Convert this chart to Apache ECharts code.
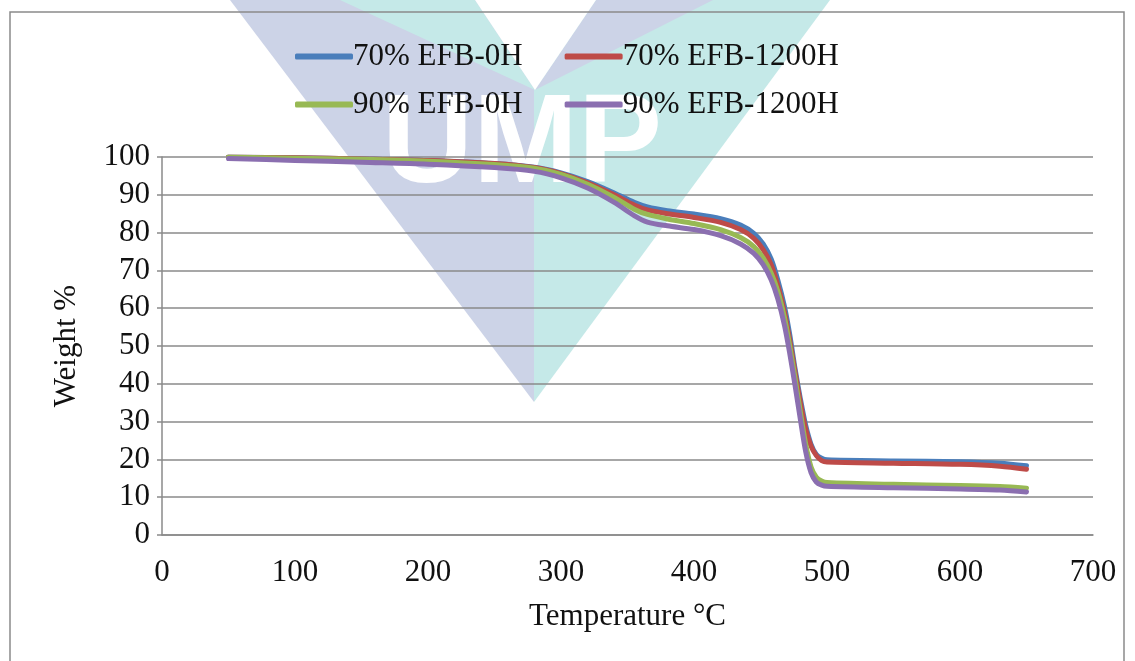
<!DOCTYPE html>
<html>
<head>
<meta charset="utf-8">
<script src="https://cdn.jsdelivr.net/npm/echarts@6/dist/echarts.min.js"></script>
<style>
html,body{margin:0;padding:0;background:#fff;}
#chart{width:1135px;height:661px;}
</style>
</head>
<body>
<div id="chart"></div>
<script>
// Temperature (°C) sample points
const temps = [50,100,150,200,250,280,300,320,340,355,365,380,400,420,435,445,452,458,463,468,472,476,480,484,488,492,496,500,550,600,630,650];
// Weight % series
const efb70_0h    = [100,99.8,99.5,99.1,98.3,97.3,95.8,93.5,90.5,88,86.8,85.8,84.9,83.7,82,79.8,77,73,67.5,60.5,53,44,36,29,24,21.3,20.3,19.9,19.6,19.4,19,18.3];
const efb70_1200h = [100,99.8,99.5,99.1,98.3,97.2,95.6,93.2,90,87.3,86,85,84,82.7,80.8,78.5,75.5,71.5,66,59,51.5,43,35,28,23.5,21,19.7,19.3,19,18.7,18.2,17.4];
const efb90_0h    = [100,99.7,99.4,98.9,98,97,95.4,92.8,89.3,86.2,84.8,83.6,82.4,80.8,78.7,76.3,73.3,69.3,64.5,57.5,50,41.5,32.5,24,18,15.3,14.3,13.9,13.4,13.1,12.8,12.4];
const efb90_1200h = [99.6,99.1,98.6,98.1,97.2,96.2,94.5,91.8,88,84.5,82.8,81.8,80.8,79.2,77,74.5,71.5,67.5,62.5,55.5,48,39.5,30.5,22,16.5,14,13.2,12.9,12.5,12.2,11.9,11.4];
const seriesNames = ['70% EFB-0H','70% EFB-1200H','90% EFB-0H','90% EFB-1200H'];
const seriesColors = ['#4A7EBB','#BE4B48','#98B954','#8B6FB0'];
const xTicks = [0,100,200,300,400,500,600,700];
const yTicks = [0,10,20,30,40,50,60,70,80,90,100];

const allData = [efb70_0h, efb70_1200h, efb90_0h, efb90_1200h];
const FONT = '"Liberation Serif","Times New Roman",serif';

const chart = echarts.init(document.getElementById('chart'));
const legendCommon = {
  orient: 'horizontal',
  itemWidth: 58,
  itemHeight: 6,
  itemGap: 42,
  icon: 'roundRect',
  textStyle: {fontFamily: FONT, fontSize: 31, color: '#111', padding: [0,0,0,-5]},
  selectedMode: false
};
chart.setOption({
  animation: false,
  backgroundColor: '#fff',
  graphic: [
    {type:'polygon', z:-20, silent:true, shape:{points:[[230,0],[534,0],[534,402]]}, style:{fill:'#CCD3E7'}},
    {type:'polygon', z:-20, silent:true, shape:{points:[[534,0],[830,0],[534,402]]}, style:{fill:'#C5E9E8'}},
    {type:'polygon', z:-19, silent:true, shape:{points:[[340,0],[475,0],[535,90]]}, style:{fill:'#C5E9E8'}},
    {type:'polygon', z:-19, silent:true, shape:{points:[[596,0],[713,0],[535,90]]}, style:{fill:'#CCD3E7'}},
    {type:'polygon', z:-18, silent:true, shape:{points:[[475,0],[596,0],[535,90]]}, style:{fill:'#ffffff'}},
    {type:'text', z:-17, silent:true, left: 382, top: 84, style:{text:'UMP', fill:'#ffffff', font:'bold 126px "Liberation Sans", Arial, sans-serif'}},
    {type:'rect', z:50, silent:true, shape:{x:10, y:12, width:1114, height:700}, style:{fill:'none', stroke:'#8a8a8a', lineWidth:1.5}}
  ],
  legend: [
    Object.assign({data: [seriesNames[0], seriesNames[1]], left: 290, top: 36}, legendCommon),
    Object.assign({data: [seriesNames[2], seriesNames[3]], left: 290, top: 84}, legendCommon)
  ],
  grid: {left: 162, right: 42, top: 157, bottom: 126, containLabel: false},
  xAxis: {
    type: 'value', min: xTicks[0], max: xTicks[xTicks.length-1], interval: 100,
    name: 'Temperature °C', nameLocation: 'middle', nameGap: 66,
    nameTextStyle: {fontFamily: FONT, fontSize: 31, color: '#111'},
    axisLine: {show: true, lineStyle: {color: '#8a8a8a', width: 1.5}},
    axisTick: {show: false},
    splitLine: {show: false},
    axisLabel: {fontFamily: FONT, fontSize: 31, color: '#111', margin: 22}
  },
  yAxis: {
    type: 'value', min: yTicks[0], max: yTicks[yTicks.length-1], interval: 10,
    name: 'Weight %', nameLocation: 'middle', nameGap: 80, nameRotate: 90,
    nameTextStyle: {fontFamily: FONT, fontSize: 31, color: '#111'},
    axisLine: {show: true, lineStyle: {color: '#8a8a8a', width: 1.5}},
    axisTick: {show: true, length: 5, lineStyle: {color: '#8a8a8a', width: 1.5}},
    splitLine: {show: true, lineStyle: {color: '#8a8a8a', width: 1.5}},
    axisLabel: {fontFamily: FONT, fontSize: 31, color: '#111', margin: 12}
  },
  series: seriesNames.map((n, i) => ({
    name: n,
    type: 'line',
    data: temps.map((t, j) => [t, allData[i][j]]),
    showSymbol: false,
    smooth: 0.3,
    color: seriesColors[i],
    lineStyle: {width: 5, color: seriesColors[i], cap: 'round', join: 'round'},
    z: 2 + i
  }))
});
</script>
</body>
</html>
